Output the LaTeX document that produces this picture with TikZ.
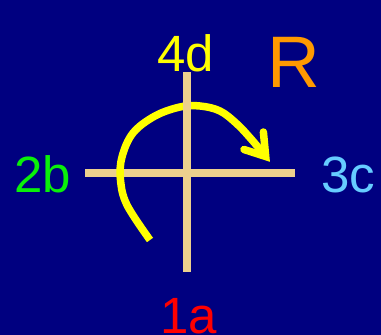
\documentclass[tikz,border=0pt]{standalone}
\usepackage{fontspec}
\setmainfont{Liberation Sans}
\definecolor{navybg}{RGB}{0,0,128}
\definecolor{tanline}{RGB}{236,208,142}
\definecolor{arcyellow}{RGB}{255,255,0}
\definecolor{lblgreen}{RGB}{10,240,10}
\definecolor{lblblue}{RGB}{102,204,255}
\definecolor{lblorange}{RGB}{255,153,0}
\definecolor{lblred}{RGB}{255,0,0}
\tikzset{
  axisline/.style={draw=tanline, line width=7.8pt, line cap=butt},
  rotarc/.style={draw=arcyellow, line width=7.5pt, line cap=butt},
  rothead/.style={draw=arcyellow, line width=7.5pt, line cap=round, line join=miter},
  lbl/.style={anchor=base, inner sep=0pt, font=\fontsize{51}{60}\selectfont},
  biglbl/.style={anchor=base, inner sep=0pt, font=\fontsize{73}{85}\selectfont}
}
\begin{document}
\begin{tikzpicture}[x=1pt,y=1pt]
\fill[navybg] (0,0) rectangle (381,335);
\useasboundingbox (0,0) rectangle (381,335);
% axes end points
\coordinate (hl) at (85,161.7);
\coordinate (hr) at (295,161.7);
\coordinate (vt) at (187,263);
\coordinate (vb) at (187,63);
% horizontal line
\draw[axisline] (hl) -- (hr);
% rotation arc
\draw[rotarc] plot[smooth, tension=0.6] coordinates {
  (150,95) (127,130) (120.5,155) (122,178) (133,202) (155,219) (180,228)
  (200,229) (220,224) (237,211) (252,195) (265.7,178.5)};
% arrow head
\coordinate (tip) at (265.7,178.5);
\coordinate (armA) at (263.4,203);
\coordinate (armB) at (244,185.5);
\draw[rothead] (armA) -- (tip) -- (armB);
% vertical line on top
\draw[axisline] (vb) -- (vt);
% labels
\node[lbl, text=arcyellow] (d4) at (185.5,263.5) {4d};
\node[biglbl, text=lblorange] (R) at (293.5,247) {R};
\node[lbl, text=lblgreen] (b2) at (42.5,142) {2b};
\node[lbl, text=lblblue] (c3) at (348.5,142.5) {3c};
\node[lbl, text=lblred] (a1) at (189,1.5) {1a};
\end{tikzpicture}
\end{document}
